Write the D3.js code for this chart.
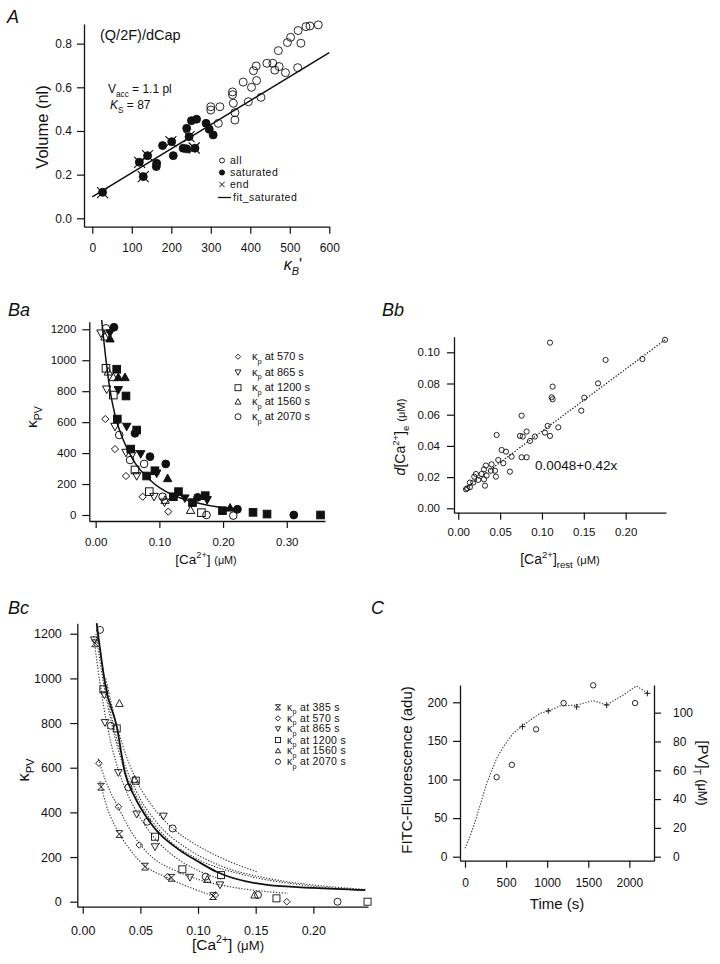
<!DOCTYPE html>
<html><head><meta charset="utf-8">
<script src="https://cdn.jsdelivr.net/npm/d3@7"></script>
<style>body{margin:0;background:#fff}</style>
</head><body><svg id="c" width="720" height="964" xmlns="http://www.w3.org/2000/svg"></svg>
<script>
// ---------------- DATA ----------------
// Panel A
const aAllX = [572,551,541,521,502,494,528,471,457,442,415,408,462,473,489,520,416,382,403,427,395,355,355,357,361,361,300,323,300,319];
const aAllY = [0.886,0.881,0.878,0.860,0.829,0.805,0.802,0.768,0.710,0.710,0.698,0.676,0.679,0.695,0.667,0.690,0.631,0.624,0.600,0.554,0.534,0.579,0.566,0.527,0.484,0.450,0.511,0.511,0.496,0.435];
const aSatX = [26,119,140,129,163,162,178,201,205,230,239,260,239,245,251,264,288,296,306];
const aSatY = [0.119,0.257,0.287,0.191,0.252,0.237,0.333,0.351,0.287,0.321,0.318,0.321,0.412,0.374,0.447,0.454,0.435,0.408,0.382];
const aEndX = [26,120,140,129,199,245,258];
const aEndY = [0.118,0.256,0.287,0.191,0.351,0.374,0.322];
const aFitX = [0,600];
const aFitY = [0.098,0.759];
const aXTicks = [0,100,200,300,400,500,600];
const aYTicks = [0,0.2,0.4,0.6,0.8];
const aLegend = ["all","saturated","end","fit_saturated"];

// Panel Ba
const baDiamondX = [0.0151,0.0303,0.0476,0.0738,0.114];
const baDiamondY = [620,426,252,118,22];
const baDtriX = [0.0083,0.0173,0.0303,0.0476,0.058,0.0644,0.0916,0.108];
const baDtriY = [1174,812,571,403,394,252,118,82];
const baSquareX = [0.0162,0.0277,0.0617,0.0842,0.166];
const baSquareY = [948,775,291,151,15];
const baTriX = [0.0146,0.0198,0.0277,0.109,0.149];
const baTriY = [1152,926,890,97,32];
const baCircleX = [0.0162,0.037,0.054,0.076,0.105,0.174,0.216];
const baCircleY = [1206,517,355,330,118,0,-4];
const baFSquareX = [0.033,0.0476,0.034,0.055,0.0644,0.080,0.093,0.122,0.130,0.152,0.172,0.199,0.247,0.269,0.353];
const baFSquareY = [942,769,620,426,549,252,286,118,151,80,125,28,17,6,0];
const baFTriX = [0.0225,0.0355,0.046,0.113,0.211];
const baFTriY = [1140,890,890,237,47];
const baFCircleX = [0.0287,0.0617,0.0853,0.110,0.160,0.2225,0.311];
const baFCircleY = [1213,528,377,330,114,37,0];
const baFDtriX = [0.0225,0.0355,0.0487,0.0707,0.0958,0.140,0.175];
const baFDtriY = [1175,808,571,394,269,108,97];
const baFitX = [0.0094,0.0162,0.0225,0.0303,0.0433,0.059,0.0853,0.121,0.143,0.16,0.195,0.225];
const baFitY = [1260,1002,808,646,485,355,226,129,97,78,50,36];
const baXTicks = [0,0.1,0.2,0.3];
const baYTicks = [0,200,400,600,800,1000,1200];
const baLegend = ["570","865","1200","1560","2070"];

// Panel Bb
const bbX = [0.1096,0.247,0.176,0.220,0.167,0.1127,0.1116,0.1127,0.1506,0.147,0.0757,0.1195,0.1068,0.1096,0.0817,0.0737,0.077,0.0458,0.0916,0.0857,0.0518,0.057,0.0478,0.0637,0.0538,0.0757,0.0817,0.0438,0.039,0.0617,0.045,0.033,0.0307,0.0279,0.0339,0.0307,0.0319,0.0211,0.0191,0.0179,0.0139,0.0108,0.0139,0.0092,0.0239,0.0398,0.1036];
const bbY = [0.1062,0.108,0.0951,0.0957,0.0801,0.0780,0.0712,0.0699,0.0709,0.0626,0.0594,0.0519,0.0528,0.0464,0.0492,0.0464,0.046,0.0470,0.046,0.0432,0.0374,0.0363,0.031,0.0331,0.0289,0.0327,0.0327,0.0241,0.0241,0.0235,0.0203,0.0274,0.025,0.022,0.021,0.0186,0.0145,0.022,0.0203,0.0165,0.0165,0.0128,0.0135,0.0122,0.0182,0.0282,0.0485];
const bbFitX = [0.0068,0.247];
const bbFitY = [0.0122,0.108];
const bbXTicks = [0,0.05,0.1,0.15,0.2];
const bbYTicks = [0,0.02,0.04,0.06,0.08,0.1];

// Panel Bc
const bc385X = [0.0107,0.0159,0.0318,0.054,0.077,0.113];
const bc385Y = [1157,515,303,157,107,25];
const bc570X = [0.0141,0.031,0.049,0.0737,0.115,0.177];
const bc570Y = [620,425,254,112,30,0];
const bc865X = [0.010,0.0188,0.0193,0.0309,0.0468,0.0627,0.07,0.093,0.119];
const bc865Y = [1172,926,802,578,392,246,383,109,75];
const bc1200X = [0.0179,0.0295,0.046,0.0627,0.0864,0.120,0.168,0.247];
const bc1200Y = [951,776,542,291,145,119,15,0];
const bc1560X = [0.0318,0.045,0.108,0.149];
const bc1560Y = [888,548,100,30];
const bc2070X = [0.015,0.0245,0.0396,0.056,0.078,0.1066,0.152,0.221];
const bc2070Y = [1217,788,512,358,328,112,30,0];
const bcC385X = [0.015,0.02,0.03,0.04,0.054,0.07,0.09,0.115];
const bcC385Y = [540,440,320,240,160,115,70,22];
const bcC570X = [0.0135,0.02,0.031,0.045,0.06,0.08,0.1,0.13,0.16,0.178];
const bcC570Y = [640,540,420,290,200,140,100,65,45,38];
const bcC865X = [0.0095,0.013,0.018,0.025,0.035,0.047,0.06,0.08,0.1,0.12];
const bcC865Y = [1190,1050,880,700,530,400,300,200,140,100];
const bcC1200X = [0.0115,0.018,0.025,0.035,0.05,0.07,0.1,0.14,0.19,0.245];
const bcC1200Y = [1200,980,800,610,440,300,190,120,75,50];
const bcC1560X = [0.0125,0.02,0.03,0.045,0.065,0.09,0.12,0.16,0.2,0.245];
const bcC1560Y = [1210,960,720,510,350,240,160,105,75,55];
const bcC2070X = [0.02,0.03,0.045,0.06,0.08,0.1,0.125,0.151];
const bcC2070Y = [1000,780,560,430,320,250,185,134];
const bcSolidX = [0.0121,0.02,0.0295,0.0367,0.045,0.058,0.084,0.1,0.116,0.16,0.2,0.245];
const bcSolidY = [1247,960,784,575,470,358,231,180,134,75,62,52];
const bcXTicks = [0,0.05,0.1,0.15,0.2];
const bcYTicks = [0,200,400,600,800,1000,1200];
const bcLegend = ["385","570","865","1200","1560","2070"];

// Panel C
const cTime = [385,570,865,1200,1560,2070];
const cFluor = [103,119,165,199,222,199];
const cLineT = [0,61,142,264,385,467,588,710,913,1014,1156,1359,1562,1724,1927,2089,2211,2244];
const cLinePV = [5.8,13.9,27.8,50.9,68.3,76.4,85.7,91.4,99.5,101.2,104.6,105.3,108.3,105.3,112.3,118.5,113.9,113.4];
const cCrossT = [700,1014,1359,1724,2219];
const cCrossPV = [90.3,101.2,104,105.3,113.4];
const cXTicks = [0,500,1000,1500,2000];
const cYLTicks = [0,50,100,150,200];
const cYRTicks = [0,20,40,60,80,100];

// ---------------- HELPERS ----------------
const F = '"Liberation Sans", Arial, Helvetica, sans-serif';
const INK = '#111';
const svg = d3.select('#c');
svg.append('rect').attr('width',720).attr('height',964).attr('fill','#fff');

function rich(parent, parts, size, o={}) {
  const t = parent.append('text').attr('font-size', size).attr('font-family', F).attr('fill', INK);
  if (o.anchor) t.attr('text-anchor', o.anchor);
  t.attr('x', o.x||0).attr('y', o.y||0);
  if (o.italic) t.attr('font-style','italic');
  let shift = 0;
  parts.forEach(p => {
    if (typeof p === 'string') p = {t:p};
    const target = p.sub ? size*0.32 : (p.sup ? -size*0.42 : 0);
    const ts = t.append('tspan').text(p.t).attr('dy', (target - shift).toFixed(2));
    shift = target;
    let fs = (p.sub || p.sup) ? size*0.68 : size;
    if (p.scale) fs = size*p.scale;
    ts.attr('font-size', fs.toFixed(2));
    if (p.it) ts.attr('font-style','italic');
  });
  return t;
}

function mark(g, type, cx, cy, h, filled, sw) {
  let el;
  if (type === 'circle') el = g.append('circle').attr('cx',cx).attr('cy',cy).attr('r',h);
  else if (type === 'square') el = g.append('rect').attr('x',cx-h).attr('y',cy-h).attr('width',2*h).attr('height',2*h);
  else {
    let d;
    if (type === 'diamond') d = `M${cx},${cy-h}L${cx+h},${cy}L${cx},${cy+h}L${cx-h},${cy}Z`;
    else if (type === 'tri') d = `M${cx},${cy-h}L${cx+h},${cy+0.8*h}L${cx-h},${cy+0.8*h}Z`;
    else if (type === 'dtri') d = `M${cx},${cy+h}L${cx+h},${cy-0.8*h}L${cx-h},${cy-0.8*h}Z`;
    else if (type === 'x') d = `M${cx-h},${cy-h}L${cx+h},${cy+h}M${cx-h},${cy+h}L${cx+h},${cy-h}`;
    else if (type === 'hour') d = `M${cx-h},${cy-h}L${cx+h},${cy-h}L${cx-h},${cy+h}L${cx+h},${cy+h}Z`;
    else if (type === 'plus') d = `M${cx-h},${cy}L${cx+h},${cy}M${cx},${cy-h}L${cx},${cy+h}`;
    el = g.append('path').attr('d', d);
  }
  el.attr('fill', (type==='x'||type==='plus') ? 'none' : (filled ? INK : 'none'))
    .attr('stroke', INK).attr('stroke-width', sw);
  return el;
}

function styleAxis(ag, fs) {
  ag.attr('font-family', F).attr('font-size', fs);
  ag.selectAll('.domain').attr('stroke', INK).attr('stroke-width', 1.3);
  ag.selectAll('.tick line').attr('stroke', INK).attr('stroke-width', 1.2);
  ag.selectAll('.tick text').attr('fill', INK);
}

function axes(x, y, o) {
  const g = svg.append('g');
  const xa = d3.axisBottom(x).tickValues(o.xTicks).tickFormat(o.xFmt).tickSizeInner(7).tickSizeOuter(0).tickPadding(o.xPad);
  styleAxis(g.append('g').attr('transform', `translate(0,${y.range()[0]})`).call(xa), o.fs);
  const ya = d3.axisLeft(y).tickValues(o.yTicks).tickFormat(o.yFmt).tickSizeInner(7).tickSizeOuter(0).tickPadding(o.yPad);
  styleAxis(g.append('g').attr('transform', `translate(${x.range()[0]},0)`).call(ya), o.fs);
  return g;
}

function panelLabel(txt, x, y) {
  svg.append('text').attr('x', x).attr('y', y).attr('font-family', F).attr('font-size', 18)
    .attr('font-style','italic').attr('fill', INK).text(txt);
}

function series(g, xs, ys, sx, sy, type, h, filled, sw) {
  d3.zip(xs, ys).forEach(([a,b]) => mark(g, type, sx(a), sy(b), h, filled, sw));
}

function curve(g, xs, ys, sx, sy, o) {
  const line = d3.line().x(d => sx(d[0])).y(d => sy(d[1])).curve(o.curve || d3.curveLinear);
  const p = g.append('path').attr('d', line(d3.zip(xs, ys))).attr('fill','none')
    .attr('stroke', o.color || INK).attr('stroke-width', o.sw || 1.2);
  if (o.dash) p.attr('stroke-dasharray', o.dash);
  return p;
}

// ---------------- PANEL A ----------------
{
  const x = d3.scaleLinear([-21,600],[84,329.3]);
  const y = d3.scaleLinear([-0.0385,0.89],[226.7,24]);
  axes(x, y, {xTicks:aXTicks, yTicks:aYTicks, xFmt:d3.format('d'), yFmt:d3.format('.1f'), fs:12, xPad:10, yPad:5});
  const g = svg.append('g');
  curve(g, aFitX, aFitY, x, y, {sw:1.5});
  series(g, aAllX, aAllY, x, y, 'circle', 4, false, 0.9);
  series(g, aSatX, aSatY, x, y, 'circle', 4, true, 0.9);
  series(g, aEndX, aEndY, x, y, 'x', 5.5, false, 1.1);
  panelLabel('A', 7, 23);
  rich(svg, ['(Q/2F)/dCap'], 14.5, {x:100, y:40});
  rich(svg, ['V', {t:'acc', sub:true}, ' = 1.1 pl'], 12, {x:108, y:93});
  rich(svg, [{t:'K', it:true}, {t:'S', sub:true}, ' = 87'], 12, {x:110, y:109});
  // legend
  const ly = [160.5,172.5,184.5,197.5];
  mark(svg, 'circle', 222, ly[0], 2.5, false, 0.9);
  mark(svg, 'circle', 222, ly[1], 2.6, true, 0.9);
  mark(svg, 'x', 222, ly[2], 2.6, false, 1);
  svg.append('line').attr('x1',218).attr('x2',231).attr('y1',ly[3]).attr('y2',ly[3]).attr('stroke',INK).attr('stroke-width',1.3);
  aLegend.forEach((t,i) => rich(svg, [t], 10.5, {x: i===3?233:230, y: ly[i]+3.5}).attr('letter-spacing', 0.5));
  // axis titles
  const yt = svg.append('g').attr('transform','translate(42,127) rotate(-90)');
  rich(yt, ['Volume (nl)'], 16.5, {anchor:'middle', y:6});
  rich(svg, [{t:'κ', it:true}, {t:'B', sub:true, it:true}, "'"], 16, {x:293, y:270, anchor:'middle'});
}

// ---------------- PANEL Ba ----------------
{
  const x = d3.scaleLinear([-0.01,0.36],[89.3,325]);
  const y = d3.scaleLinear([-38.8,1249],[521,321.7]);
  axes(x, y, {xTicks:baXTicks, yTicks:baYTicks, xFmt:d3.format('.2f'), yFmt:d3.format('d'), fs:11.5, xPad:9.5, yPad:6});
  const g = svg.append('g');
  curve(g, baFitX, baFitY, x, y, {sw:1.5, curve:d3.curveMonotoneX});
  const sw = 1;
  series(g, baDiamondX, baDiamondY, x, y, 'diamond', 3.6, false, sw);
  series(g, baDtriX, baDtriY, x, y, 'dtri', 4.2, false, sw);
  series(g, baSquareX, baSquareY, x, y, 'square', 3.8, false, sw);
  series(g, baTriX, baTriY, x, y, 'tri', 4.2, false, sw);
  series(g, baCircleX, baCircleY, x, y, 'circle', 3.8, false, sw);
  series(g, baFSquareX, baFSquareY, x, y, 'square', 3.8, true, sw);
  series(g, baFTriX, baFTriY, x, y, 'tri', 4.2, true, sw);
  series(g, baFCircleX, baFCircleY, x, y, 'circle', 3.9, true, sw);
  series(g, baFDtriX, baFDtriY, x, y, 'dtri', 4.2, true, sw);
  panelLabel('Ba', 8, 316);
  const types = ['diamond','dtri','square','tri','circle'];
  const ly = [356.7,372.3,387.7,401.7,416.7];
  baLegend.forEach((t,i) => {
    mark(svg, types[i], 238, ly[i], i===0?2.6:3, false, 0.9);
    rich(svg, ['κ', {t:'p', sub:true}, ` at ${t} s`], 11, {x:252, y:ly[i]+3.5});
  });
  const yt = svg.append('g').attr('transform','translate(33,417) rotate(-90)');
  rich(yt, ['κ', {t:'PV', sub:true}], 15.5, {anchor:'middle', y:4});
  rich(svg, ['[Ca', {t:'2+', sup:true}, '] ', {t:'(μM)', scale:0.8}], 13.5, {x:206, y:564, anchor:'middle'});
}

// ---------------- PANEL Bb ----------------
{
  const x = d3.scaleLinear([-0.0051,0.2482],[454,666]);
  const y = d3.scaleLinear([-0.00282,0.110],[512.7,336.7]);
  axes(x, y, {xTicks:bbXTicks, yTicks:bbYTicks, xFmt:d3.format('.2f'), yFmt:d3.format('.2f'), fs:11.5, xPad:8.5, yPad:7});
  const g = svg.append('g');
  curve(g, bbFitX, bbFitY, x, y, {sw:1.2, dash:'1.3,1.7'});
  series(g, bbX, bbY, x, y, 'circle', 2.6, false, 0.9);
  panelLabel('Bb', 382, 316);
  rich(svg, ['0.0048+0.42x'], 13.5, {x:535, y:470});
  const yt = svg.append('g').attr('transform','translate(400,437) rotate(-90)');
  rich(yt, [{t:'d', it:true}, '[Ca', {t:'2+', sup:true}, ']', {t:'e', sub:true}, ' ', {t:'(μM)', scale:0.8}], 14, {anchor:'middle', y:5});
  rich(svg, ['[Ca', {t:'2+', sup:true}, ']', {t:'rest', sub:true}, ' ', {t:'(μM)', scale:0.8}], 14, {x:560, y:564, anchor:'middle'});
}

// ---------------- PANEL Bc ----------------
{
  const x = d3.scaleLinear([-0.0047,0.2474],[77.3,368]);
  const y = d3.scaleLinear([-22.4,1246.7],[906.7,623.3]);
  axes(x, y, {xTicks:bcXTicks, yTicks:bcYTicks, xFmt:d3.format('.2f'), yFmt:d3.format('d'), fs:12.5, xPad:12, yPad:8.5});
  const g = svg.append('g');
  const dot = {sw:1.1, dash:'1.3,1.6', curve:d3.curveMonotoneX, color:'#333'};
  curve(g, bcC385X, bcC385Y, x, y, dot);
  curve(g, bcC570X, bcC570Y, x, y, dot);
  curve(g, bcC865X, bcC865Y, x, y, dot);
  curve(g, bcC1200X, bcC1200Y, x, y, dot);
  curve(g, bcC1560X, bcC1560Y, x, y, dot);
  curve(g, bcC2070X, bcC2070Y, x, y, dot);
  curve(g, bcSolidX, bcSolidY, x, y, {sw:1.8, curve:d3.curveMonotoneX});
  const sw = 0.9;
  series(g, bc385X, bc385Y, x, y, 'hour', 3.4, false, sw);
  series(g, bc570X, bc570Y, x, y, 'diamond', 3.3, false, sw);
  series(g, bc865X, bc865Y, x, y, 'dtri', 3.8, false, sw);
  series(g, bc1200X, bc1200Y, x, y, 'square', 3.5, false, sw);
  series(g, bc1560X, bc1560Y, x, y, 'tri', 3.8, false, sw);
  series(g, bc2070X, bc2070Y, x, y, 'circle', 3.5, false, sw);
  panelLabel('Bc', 8, 614);
  const types = ['hour','diamond','dtri','square','tri','circle'];
  const ly = [707.3,718.3,728.8,740,750.7,761.7];
  bcLegend.forEach((t,i) => {
    mark(svg, types[i], 278, ly[i], 2.6, false, 0.9);
    rich(svg, ['κ', {t:'p', sub:true}, ` at ${t} s`], 10.5, {x:287, y:ly[i]+3.5}).attr('letter-spacing', 0.3);
  });
  const yt = svg.append('g').attr('transform','translate(25,770) rotate(-90)');
  rich(yt, ['κ', {t:'PV', sub:true}], 16.5, {anchor:'middle', y:4});
  rich(svg, ['[Ca', {t:'2+', sup:true}, '] ', {t:'(μM)', scale:0.85}], 15.5, {x:228, y:950, anchor:'middle'});
}

// ---------------- PANEL C ----------------
{
  const x = d3.scaleLinear([-60.8,2300],[460,654]);
  const yL = d3.scaleLinear([-5.18,222.4],[860.7,685]);
  const yR = d3.scaleLinear([-2.78,119.2],[860.7,685]);
  axes(x, yL, {xTicks:cXTicks, yTicks:cYLTicks, xFmt:d3.format('d'), yFmt:d3.format('d'), fs:12, xPad:11, yPad:5.5});
  const ra = d3.axisRight(yR).tickValues(cYRTicks).tickFormat(d3.format('d')).tickSizeInner(7).tickSizeOuter(0).tickPadding(12);
  styleAxis(svg.append('g').attr('transform','translate(654,0)').call(ra), 12);
  const g = svg.append('g');
  curve(g, cLineT, cLinePV, x, yR, {sw:1.1, dash:'1.3,1.6', color:'#333'});
  series(g, cCrossT, cCrossPV, x, yR, 'plus', 3, false, 0.9);
  series(g, cTime, cFluor, x, yL, 'circle', 2.7, false, 0.9);
  panelLabel('C', 371, 614);
  const yt = svg.append('g').attr('transform','translate(407,770) rotate(-90)');
  rich(yt, ['FITC-Fluorescence (adu)'], 15, {anchor:'middle', y:5});
  const rt = svg.append('g').attr('transform','translate(703,773) rotate(90)');
  rich(rt, ['[PV]', {t:'T', sub:true}, ' ', {t:'(μM)', scale:0.85}], 15, {anchor:'middle', y:5});
  rich(svg, ['Time (s)'], 15, {x:557, y:909, anchor:'middle'});
}
</script>
</body></html>
